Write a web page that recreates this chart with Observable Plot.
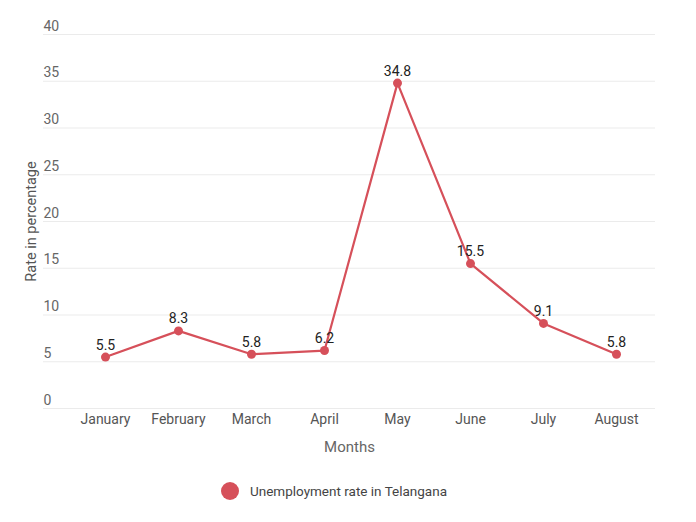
<!DOCTYPE html>
<html>
<head>
<meta charset="utf-8">
<script src="https://cdn.jsdelivr.net/npm/d3@7"></script>
<script src="https://cdn.jsdelivr.net/npm/@observablehq/plot@0.6"></script>
<style>
  body { margin: 0; background: #fff; font-family: Roboto, "Noto Sans", sans-serif; }
  #chart svg { display: block; }
  .legend { display: flex; align-items: center; justify-content: center; height: 62px; margin-left: -28px; font-size: 13.5px; color: #444; }
  .legend .dot { width: 18px; height: 18px; border-radius: 50%; background: #d6505a; margin-right: 11px; }
</style>
</head>
<body>
<div id="chart"></div>
<div class="legend"><span class="dot"></span><span>Unemployment rate in Telangana</span></div>
<script>
const months = ["January", "February", "March", "April", "May", "June", "July", "August"];
const rates = [5.5, 8.3, 5.8, 6.2, 34.8, 15.5, 9.1, 5.8];
const yTicks = [0, 5, 10, 15, 20, 25, 30, 35, 40];
const seriesName = "Unemployment rate in Telangana";
const lineColor = "#d6505a";

const data = months.map((m, i) => ({month: m, rate: rates[i]}));

const chart = Plot.plot({
  width: 696,
  height: 460,
  marginTop: 34,
  marginBottom: 52,
  marginLeft: 43,
  marginRight: 41,
  style: {fontFamily: "Roboto, 'Noto Sans', sans-serif", background: "#fff"},
  x: {type: "point", domain: months, range: [103, 618], padding: 0, label: null, axis: null},
  y: {domain: [0, 40], axis: null},
  marks: [
    Plot.ruleY(yTicks, {stroke: "#ebebeb", strokeWidth: 1}),
    Plot.text(yTicks, {
      y: d => d, frameAnchor: "left", textAnchor: "start", lineAnchor: "bottom",
      dy: -4, text: d => String(d), fontSize: 14, fill: "#666"
    }),
    Plot.axisX({tickSize: 0, tickPadding: 6, fontSize: 14, label: null, color: "#555"}),
    Plot.text(["Months"], {frameAnchor: "bottom", dy: 43, fontSize: 15, fill: "#666"}),
    Plot.text(["Rate in percentage"], {frameAnchor: "left", textAnchor: "middle", rotate: -90, dx: -12, fontSize: 14.5, fill: "#555"}),
    Plot.line(data, {x: "month", y: "rate", stroke: lineColor, strokeWidth: 2.2}),
    Plot.dot(data, {x: "month", y: "rate", r: 4.5, fill: lineColor}),
    Plot.text(data, {x: "month", y: "rate", text: d => d.rate.toFixed(1), dy: -12, fontSize: 14, fill: "#222"})
  ]
});
document.getElementById("chart").append(chart);
</script>
</body>
</html>
